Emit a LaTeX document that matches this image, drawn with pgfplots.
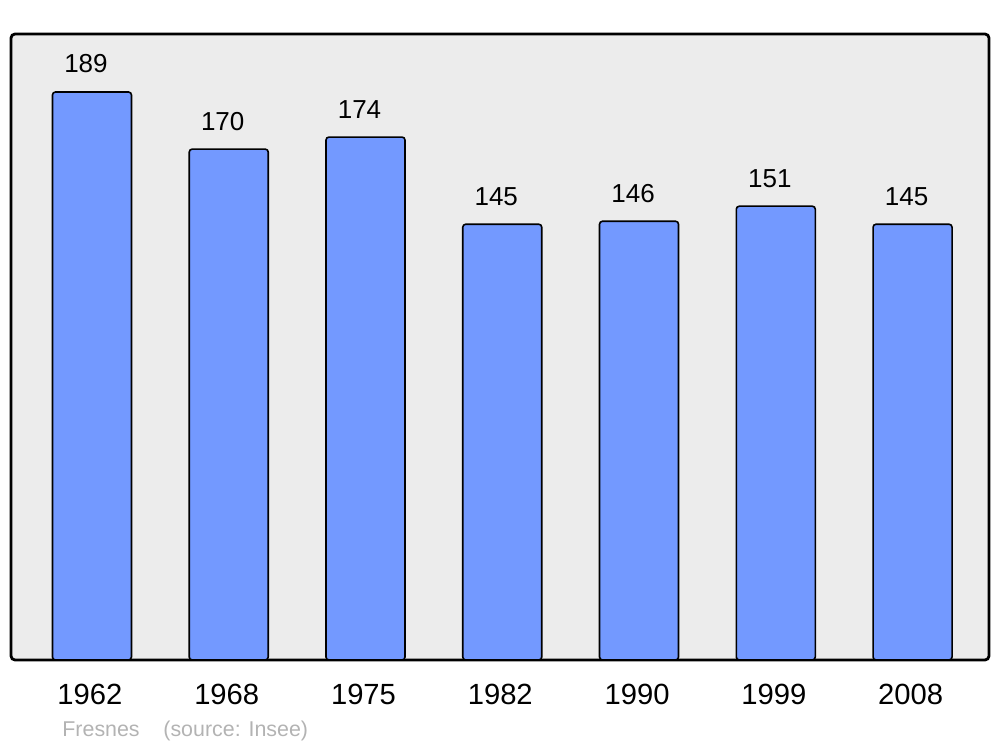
\documentclass[border=0pt]{standalone}
\usepackage{pgfplots}
\pgfplotsset{compat=1.18}
\usepackage{fontspec}
\setmainfont{Liberation Sans}
\definecolor{barblue}{HTML}{7399FF}
\definecolor{bgray}{HTML}{ECECEC}
\definecolor{footgray}{HTML}{B3B3B3}
\begin{document}
\begin{tikzpicture}
\useasboundingbox (-5.5pt,-43.5pt) rectangle (494.5pt,330pt);
\begin{axis}[
  scale only axis,
  width=489pt, height=313pt,
  at={(0pt,0pt)}, anchor=south west,
  xmin=-0.592, xmax=6.559,
  ymin=0, ymax=208.3,
  axis line style={draw=none},
  axis background/.style={fill=bgray, draw=black, line width=1.4pt, rounded corners=2pt},
  ytick=\empty,
  xtick={0,1,2,3,4,5,6},
  xticklabels={1962,1968,1975,1982,1990,1999,2008},
  major tick length=0pt,
  xticklabel style={font=\fontsize{14.6}{16}\selectfont, anchor=base, yshift=-22.5pt, xshift=-1pt, inner sep=0pt},
  /pgf/number format/assume math mode=true,
  nodes near coords,
  every node near coord/.append style={font=\fontsize{13}{14}\selectfont, anchor=base, yshift=9.5pt, xshift=-3pt, inner sep=0pt},
  clip=false,
]
\addplot[ybar, bar width=39.5pt, fill=barblue, draw=black, line width=0.8pt, rounded corners=1.5pt] coordinates {
 (0,189) (1,170) (2,174) (3,145) (4,146) (5,151) (6,145)
};
\node[anchor=base west, inner sep=0pt, text=footgray, font=\fontsize{10.7}{13}\selectfont, xshift=25.5pt, yshift=-38.5pt] at (rel axis cs:0,0) {Fresnes};
\node[anchor=base west, inner sep=0pt, text=footgray, font=\fontsize{10.7}{13}\selectfont, xshift=76pt, yshift=-38.5pt] at (rel axis cs:0,0) {(source: Insee)};
\end{axis}
\end{tikzpicture}
\end{document}
